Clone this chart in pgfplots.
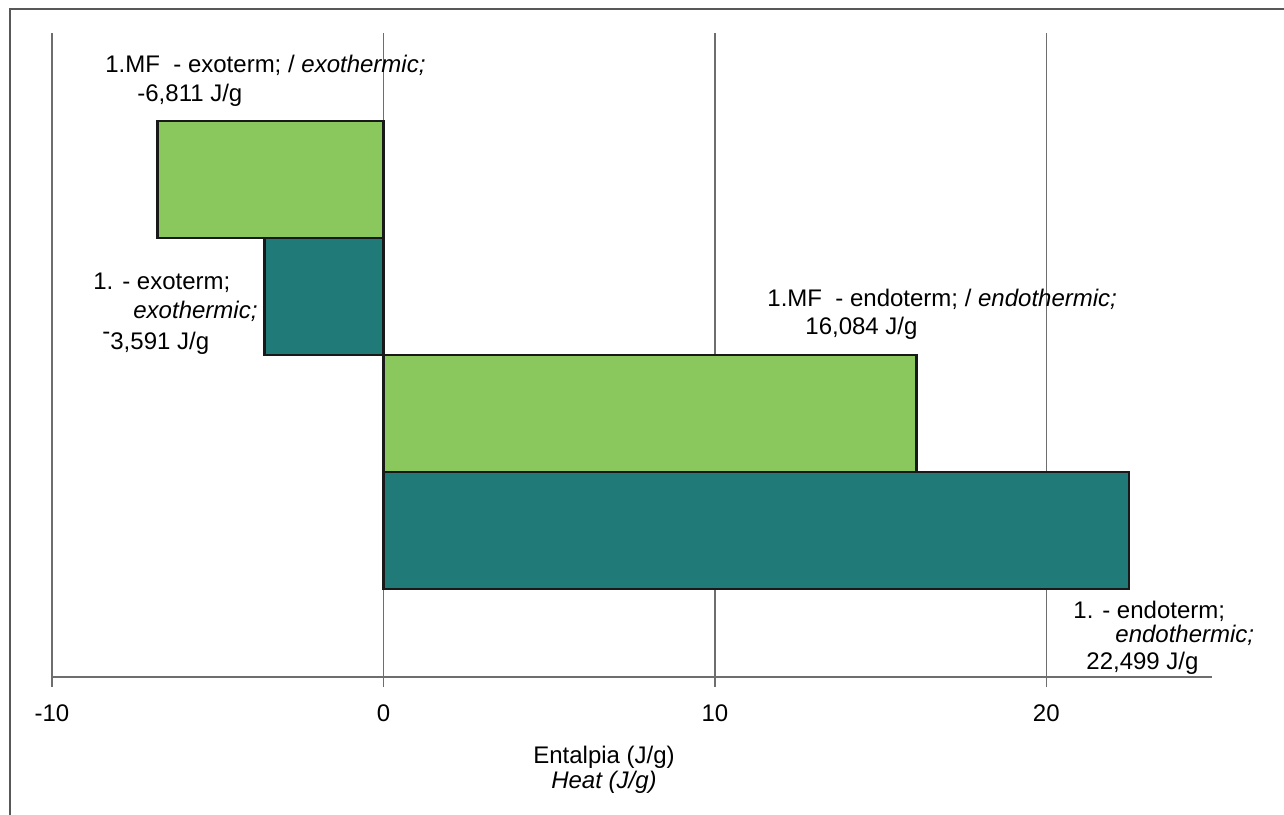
\documentclass[border=0pt]{standalone}
\usepackage{fontspec}
\setmainfont{Liberation Sans}
\usepackage{pgfplots}
\pgfplotsset{compat=1.18}
\definecolor{lgreen}{RGB}{138,199,92}
\definecolor{tealbar}{RGB}{32,122,120}
\definecolor{gridgray}{RGB}{110,110,110}
\newcommand\Px[2]{({(#1-52)*0.5pt},{(677-#2)*0.5pt})}
\begin{document}
\begin{tikzpicture}[every node/.style={font=\fontsize{12}{14}\selectfont, inner sep=0pt}]
\begin{axis}[
  at={(0,0)}, anchor=south west,
  scale only axis, width=580pt, height=322pt,
  xmin=-10, xmax=25, ymin=0, ymax=5.5,
  axis x line*=bottom, axis y line=none,
  x axis line style={-, draw=gridgray, line width=0.75pt},
  xtick={-10,0,10,20}, xticklabels={-10,0,10,20},
  xtick align=outside, major tick length=5pt,
  tick style={draw=gridgray, line width=0.75pt},
  ytick=\empty,
  xmajorgrids, grid style={draw=gridgray, line width=0.75pt},
  xticklabel style={font=\fontsize{12}{14}\selectfont, inner sep=0pt, anchor=base, yshift=-17pt},
  clip=false,
]
\addplot[xbar, bar width=58.5pt, bar shift=0pt, fill=lgreen, draw=black!90, line width=1.3pt, line join=miter]
  coordinates {(-6.811,4.25) (16.084,2.25)};
\addplot[xbar, bar width=58.5pt, bar shift=0pt, fill=tealbar, draw=black!90, line width=1.3pt, line join=miter]
  coordinates {(-3.591,3.25) (22.499,1.25)};
\end{axis}
% labels
\node[anchor=base west] at \Px{105}{73} {1.MF\ \ - exoterm; / \textit{exothermic;}};
\node[anchor=base west] at \Px{137}{102} {-6,811 J/g};
\node[anchor=base west] at \Px{93}{290} {1. - exoterm;};
\node[anchor=base west] at \Px{133}{319} {\textit{exothermic;}};
\node[anchor=base west] at \Px{102}{350} {\raisebox{0.45em}{-}3,591 J/g};
\node[anchor=base west] at \Px{767}{307} {1.MF\ \ - endoterm; / \textit{endothermic;}};
\node[anchor=base west] at \Px{805}{335} {16,084 J/g};
\node[anchor=base west] at \Px{1073}{618} {1. - endoterm;};
\node[anchor=base west] at \Px{1115}{642} {\textit{endothermic;}};
\node[anchor=base west] at \Px{1086}{669} {22,499 J/g};
\node[anchor=base] at \Px{604}{763} {Entalpia (J/g)};
\node[anchor=base] at \Px{604}{788} {\textit{Heat (J/g)}};
% outer frame
\draw[draw=gridgray!80!black, line width=1pt] \Px{10}{820} -- \Px{10}{9.5} -- \Px{1290}{9.5};
\pgfresetboundingbox
\path[use as bounding box] \Px{0}{814} rectangle \Px{1284}{0};
\end{tikzpicture}
\end{document}
